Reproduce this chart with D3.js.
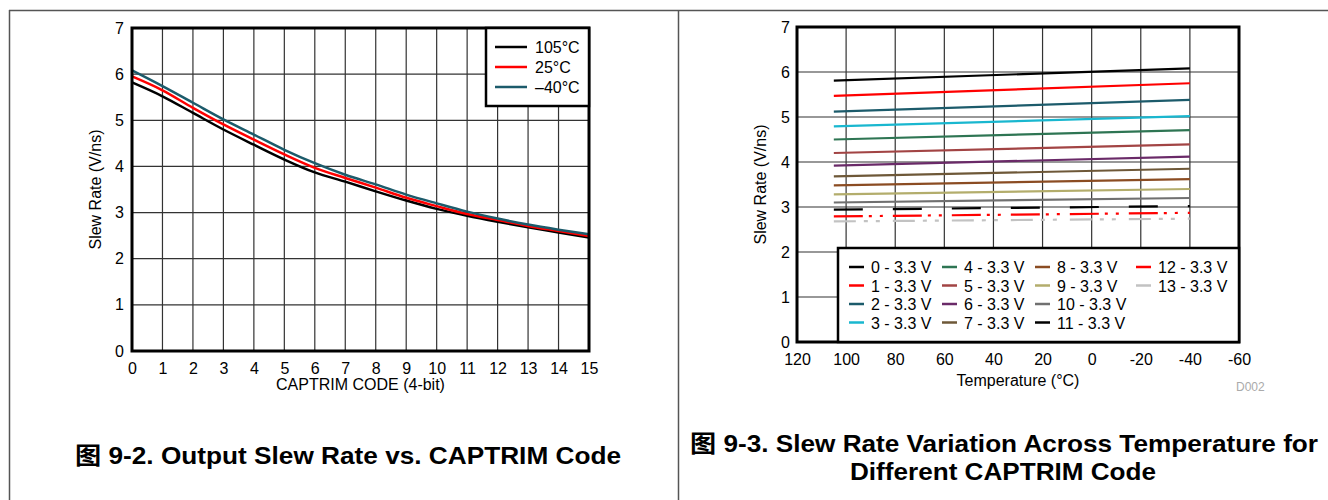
<!DOCTYPE html>
<html>
<head>
<meta charset="utf-8">
<script src="https://cdn.jsdelivr.net/npm/d3@7"></script>
<style>
  body { margin: 0; background: #fff; }
  svg text { font-family: "Liberation Sans", Arial, "Noto Sans CJK SC", sans-serif; fill: #000; }
</style>
</head>
<body>
<svg id="page" width="1328" height="500"></svg>
<script>
// ---- left chart data (slew rate vs captrim code) ----
const captrimCodes = [0,1,2,3,4,5,6,7,8,9,10,11,12,13,14,15];
const slew105 = [5.82,5.52,5.16,4.80,4.47,4.15,3.87,3.67,3.46,3.26,3.08,2.93,2.80,2.68,2.57,2.46];
const slew25  = [5.95,5.65,5.27,4.91,4.58,4.26,3.97,3.75,3.54,3.32,3.14,2.97,2.84,2.71,2.60,2.49];
const slewM40 = [6.08,5.74,5.38,5.02,4.69,4.36,4.07,3.82,3.61,3.39,3.20,3.02,2.87,2.74,2.63,2.53];
const leftSeriesNames = ["105°C", "25°C", "\u201340°C"];

// ---- right chart data (slew rate vs temperature, per code) ----
const tempPoints = [105, -40];
const codeNames = ["0 - 3.3 V","1 - 3.3 V","2 - 3.3 V","3 - 3.3 V","4 - 3.3 V","5 - 3.3 V","6 - 3.3 V",
                   "7 - 3.3 V","8 - 3.3 V","9 - 3.3 V","10 - 3.3 V","11 - 3.3 V","12 - 3.3 V","13 - 3.3 V"];
const rateAt105 = [5.81,5.47,5.12,4.79,4.50,4.20,3.92,3.68,3.48,3.28,3.10,2.94,2.79,2.68];
const rateAtM40 = [6.08,5.75,5.38,5.02,4.71,4.39,4.12,3.85,3.62,3.40,3.20,3.02,2.87,2.74];
const tempTicks = [120,100,80,60,40,20,0,-20,-40,-60];

// styles
const leftColors = ["#000000", "#ff0000", "#1c5b6b"];
const codeColors = ["#000000","#ff0000","#1c5b6b","#19b7cf","#2e7553","#a24444","#6a2a68",
                    "#6e5838","#8b4c22","#b3ad6c","#707070","#000000","#ff0000","#c2c2c2"];
const codeDash = [null,null,null,null,null,null,null,null,null,null,null,"29,30","29,6,3,8,3,10","22,8,4,8,4,13"];

const svg = d3.select("#page");

// page frame
svg.append("line").attr("x1", 9).attr("x2", 1328).attr("y1", 10.5).attr("y2", 10.5).attr("stroke", "#555").attr("stroke-width", 1.5);
svg.append("line").attr("x1", 9.5).attr("x2", 9.5).attr("y1", 10).attr("y2", 500).attr("stroke", "#555").attr("stroke-width", 1.5);
svg.append("line").attr("x1", 678.5).attr("x2", 678.5).attr("y1", 10).attr("y2", 500).attr("stroke", "#555").attr("stroke-width", 1.5);

// ================= left chart =================
const L = {left: 132, right: 589, top: 28, bottom: 351};
const xL = d3.scaleLinear().domain([0, 15]).range([L.left, L.right]);
const yL = d3.scaleLinear().domain([0, 7]).range([L.bottom, L.top]);

const gL = svg.append("g");
// grid
gL.append("g").selectAll("line").data(captrimCodes.slice(1, -1)).enter().append("line")
  .attr("x1", d => xL(d)).attr("x2", d => xL(d)).attr("y1", L.top).attr("y2", L.bottom)
  .attr("stroke", "#333").attr("stroke-width", 1.2);
gL.append("g").selectAll("line").data(d3.range(1, 7)).enter().append("line")
  .attr("x1", L.left).attr("x2", L.right).attr("y1", d => yL(d)).attr("y2", d => yL(d))
  .attr("stroke", "#333").attr("stroke-width", 1.2);

// axes
gL.append("g").attr("transform", `translate(0,${L.bottom})`)
  .call(d3.axisBottom(xL).tickValues(captrimCodes).tickSize(0).tickPadding(12))
  .call(g => g.select(".domain").remove())
  .selectAll("text").style("font-size", "16px");
gL.append("g").attr("transform", `translate(${L.left},0)`)
  .call(d3.axisLeft(yL).ticks(7).tickSize(0).tickPadding(8))
  .call(g => g.select(".domain").remove())
  .selectAll("text").style("font-size", "16px");

// curves
const leftSeries = [slew105, slew25, slewM40];
const lineL = d3.line().x((d, i) => xL(captrimCodes[i])).y(d => yL(d)).curve(d3.curveMonotoneX);
gL.append("g").selectAll("path").data(leftSeries).enter().append("path")
  .attr("d", lineL).attr("fill", "none")
  .attr("stroke", (d, i) => leftColors[i]).attr("stroke-width", 2.5);

// frame
gL.append("rect").attr("x", L.left).attr("y", L.top).attr("width", L.right - L.left).attr("height", L.bottom - L.top)
  .attr("fill", "none").attr("stroke", "#000").attr("stroke-width", 3);

// legend
const legL = gL.append("g");
legL.append("rect").attr("x", 486).attr("y", L.top).attr("width", L.right - 486).attr("height", 78)
  .attr("fill", "#fff").attr("stroke", "#000").attr("stroke-width", 2.5);
leftSeriesNames.forEach((name, i) => {
  const yy = 47 + i * 20;
  legL.append("line").attr("x1", 495).attr("x2", 527).attr("y1", yy).attr("y2", yy)
    .attr("stroke", leftColors[i]).attr("stroke-width", 2.5);
  legL.append("text").attr("x", 535).attr("y", yy + 6).style("font-size", "16px").text(name);
});

// titles
gL.append("text").attr("x", (L.left + L.right) / 2).attr("y", 390).attr("text-anchor", "middle")
  .style("font-size", "16px").text("CAPTRIM CODE (4-bit)");
gL.append("text").attr("transform", `translate(101,${(L.top + L.bottom) / 2})rotate(-90)`)
  .attr("text-anchor", "middle").style("font-size", "16px").text("Slew Rate (V/ns)");
gL.append("text").attr("x", 348).attr("y", 464).attr("text-anchor", "middle")
  .attr("textLength", 546).attr("lengthAdjust", "spacingAndGlyphs")
  .style("font-size", "24px").style("font-weight", "bold").text("图 9-2. Output Slew Rate vs. CAPTRIM Code");

// ================= right chart =================
const R = {left: 797, right: 1239, top: 27, bottom: 342};
const xR = d3.scaleLinear().domain([120, -60]).range([R.left, R.right]);
const yR = d3.scaleLinear().domain([0, 7]).range([R.bottom, R.top]);

const gR = svg.append("g");
gR.append("g").selectAll("line").data(tempTicks.slice(1, -1)).enter().append("line")
  .attr("x1", d => xR(d)).attr("x2", d => xR(d)).attr("y1", R.top).attr("y2", R.bottom)
  .attr("stroke", "#333").attr("stroke-width", 1.2);
gR.append("g").selectAll("line").data(d3.range(1, 7)).enter().append("line")
  .attr("x1", R.left).attr("x2", R.right).attr("y1", d => yR(d)).attr("y2", d => yR(d))
  .attr("stroke", "#333").attr("stroke-width", 1.2);

gR.append("g").attr("transform", `translate(0,${R.bottom})`)
  .call(d3.axisBottom(xR).tickValues(tempTicks).tickFormat(d => String(d)).tickSize(0).tickPadding(12))
  .call(g => g.select(".domain").remove())
  .selectAll("text").style("font-size", "16px");
gR.append("g").attr("transform", `translate(${R.left},0)`)
  .call(d3.axisLeft(yR).ticks(7).tickSize(0).tickPadding(7))
  .call(g => g.select(".domain").remove())
  .selectAll("text").style("font-size", "16px");

const codeSeries = codeNames.map((n, i) => [rateAt105[i], rateAtM40[i]]);
const lineR = d3.line().x((d, i) => xR(tempPoints[i])).y(d => yR(d));
gR.append("g").selectAll("path").data(codeSeries).enter().append("path")
  .attr("d", lineR).attr("fill", "none")
  .attr("stroke", (d, i) => codeColors[i]).attr("stroke-width", 2.2)
  .attr("stroke-dasharray", (d, i) => codeDash[i]);

gR.append("rect").attr("x", R.left).attr("y", R.top).attr("width", R.right - R.left).attr("height", R.bottom - R.top)
  .attr("fill", "none").attr("stroke", "#000").attr("stroke-width", 3);

// legend
const legR = gR.append("g");
legR.append("rect").attr("x", 838).attr("y", 248).attr("width", R.right - 838).attr("height", R.bottom - 248)
  .attr("fill", "#fff").attr("stroke", "#000").attr("stroke-width", 2.5);
const colX = [849, 942, 1035, 1136];
codeNames.forEach((name, i) => {
  const col = Math.floor(i / 4), row = i % 4;
  const yy = 267 + row * 18.5;
  legR.append("line").attr("x1", colX[col]).attr("x2", colX[col] + 15).attr("y1", yy).attr("y2", yy)
    .attr("stroke", codeColors[i]).attr("stroke-width", 2.5);
  legR.append("text").attr("x", colX[col] + 22).attr("y", yy + 6).style("font-size", "16px").text(name);
});

gR.append("text").attr("x", (R.left + R.right) / 2).attr("y", 386).attr("text-anchor", "middle")
  .style("font-size", "16px").text("Temperature (°C)");
gR.append("text").attr("transform", `translate(766,${(R.top + R.bottom) / 2})rotate(-90)`)
  .attr("text-anchor", "middle").style("font-size", "16px").text("Slew Rate (V/ns)");
gR.append("text").attr("x", 1236).attr("y", 391).style("font-size", "12px").style("fill", "#aaa").text("D002");

gR.append("text").attr("x", 1004).attr("y", 452).attr("text-anchor", "middle")
  .attr("textLength", 628).attr("lengthAdjust", "spacingAndGlyphs")
  .style("font-size", "24px").style("font-weight", "bold").text("图 9-3. Slew Rate Variation Across Temperature for");
gR.append("text").attr("x", 1003).attr("y", 480).attr("text-anchor", "middle")
  .attr("textLength", 306).attr("lengthAdjust", "spacingAndGlyphs")
  .style("font-size", "24px").style("font-weight", "bold").text("Different CAPTRIM Code");
</script>
</body>
</html>
